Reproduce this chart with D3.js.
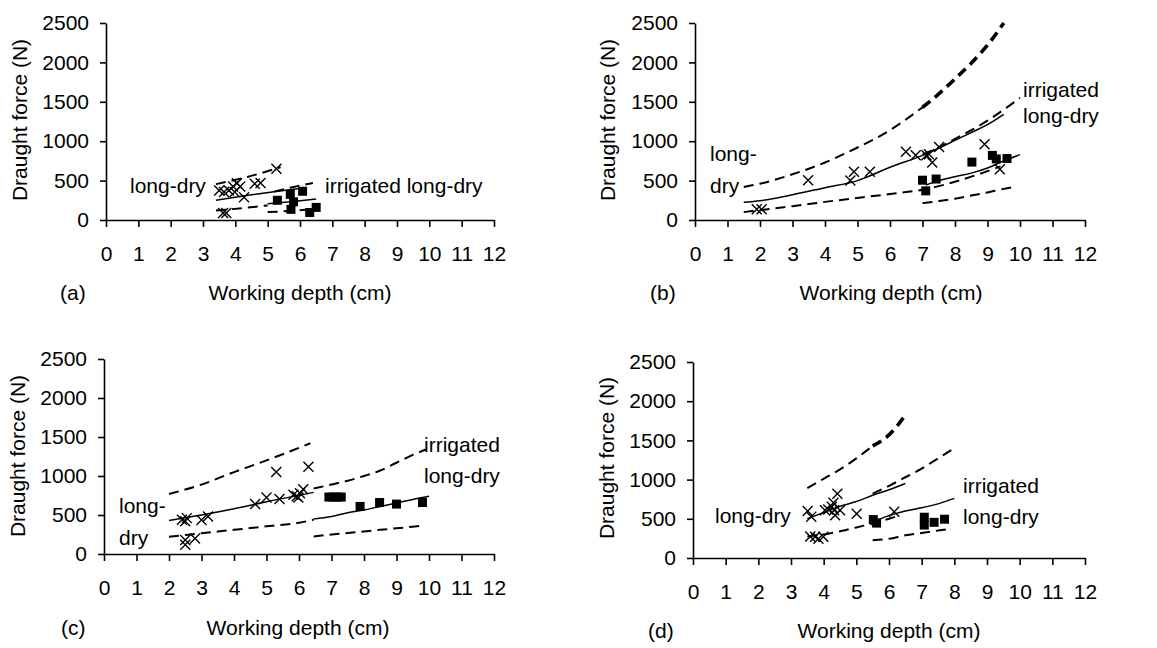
<!DOCTYPE html>
<html>
<head>
<meta charset="utf-8">
<script src="https://cdn.jsdelivr.net/npm/d3@7"></script>
<style>
  body { margin: 0; background: #fff; }
  svg text { font-family: "Liberation Sans", Arial, sans-serif; font-size: 21px; fill: #000; }
</style>
</head>
<body>
<svg id="chart" width="1157" height="648"></svg>
<script>
const depthTicks = [0, 1, 2, 3, 4, 5, 6, 7, 8, 9, 10, 11, 12];
const forceTicks = [0, 500, 1000, 1500, 2000, 2500];

// (a)
const aDryCross = [[3.5,375],[3.65,355],[3.8,375],[3.93,425],[4.05,465],[4.15,425],[3.98,355],[4.27,290],[4.6,460],[4.78,470],[5.27,650],[3.62,88],[3.72,90]];
const aIrrSquare = [[5.3,250],[5.7,325],[5.8,230],[5.72,135],[6.08,365],[6.3,95],[6.5,160]];
const aDryUpper = [[3.4,455],[4.4,550],[5.4,670]];
const aDryMean = [[3.4,250],[4.5,320],[5.5,375],[6.0,400]];
const aDryLower = [[3.4,120],[4.2,150],[5.0,185]];
const aIrrUpper = [[5.2,360],[5.8,420],[6.4,470]];
const aIrrMean = [[5.0,205],[5.8,235],[6.5,265]];
const aIrrLower = [[5.0,100],[5.7,115],[6.4,135]];

// (b)
const bDryCross = [[1.9,135],[2.05,135],[3.48,505],[4.78,500],[4.89,612],[5.38,612],[6.49,865],[6.79,822],[7.12,822],[7.2,835],[7.3,730],[7.51,925],[8.91,960],[9.38,645]];
const bIrrSquare = [[7.0,505],[7.1,370],[7.42,520],[8.52,735],[9.15,820],[9.27,775],[9.6,780]];
const bDryUpper = [[1.5,420],[2,460],[3,580],[4,730],[5,920],[6,1140],[7,1430]];
const bDryUpperTail = [[7,1430],[7.5,1600],[8,1790],[8.5,1990],[9,2220],[9.5,2500]];
const bDryMean = [[1.5,225],[2,245],[3,320],[4,410],[5,500],[6,670],[7,820],[8,1010],[8.5,1110],[9,1210],[9.5,1340]];
const bDryLower = [[1.5,100],[2,125],[3,175],[4,230],[5,280],[6,330],[7,385],[7.5,430],[8,485],[8.5,550],[9,620],[9.4,680]];
const bIrrUpper = [[7,830],[7.5,920],[8,1030],[8.5,1140],[9,1260],[9.5,1400],[10,1550]];
const bIrrMean = [[7.1,445],[7.5,500],[8,550],[8.5,595],[9,660],[9.5,750],[10,830]];
const bIrrLower = [[7,215],[7.5,240],[8,270],[8.5,310],[9,350],[9.5,395],[9.85,420]];

// (c)
const cDryCross = [[2.4,440],[2.55,460],[2.5,420],[3.0,435],[3.2,480],[4.65,640],[5.0,725],[5.3,1050],[5.4,705],[5.83,760],[5.93,740],[6.03,780],[6.13,830],[5.98,725],[6.29,1120],[2.5,180],[2.5,120],[2.8,200]];
const cIrrSquare = [[6.92,730],[7.05,730],[7.18,730],[7.3,730],[7.88,610],[8.48,660],[9.0,640],[9.8,660]];
const cDryUpper = [[2,770],[3,890],[4,1050],[5,1200],[6.35,1420]];
const cDryMean = [[2,430],[3,500],[4,580],[5,670],[6.45,790]];
const cDryLower = [[2,220],[3,265],[4,310],[5,355],[6,400],[6.45,440]];
const cIrrUpper = [[6.45,840],[7,890],[7.5,940],[8,1000],[8.5,1070],[9,1170],[9.5,1270],[9.9,1340]];
const cIrrMean = [[6.45,450],[7,480],[7.5,530],[8,565],[8.5,610],[9,655],[9.5,700],[10,740]];
const cIrrLower = [[6.45,225],[7,250],[7.5,270],[8,290],[8.5,310],[9,330],[9.5,350],[9.85,365]];

// (d)
const dDryCross = [[3.51,600],[3.62,525],[4.04,610],[4.14,620],[4.25,655],[4.3,705],[4.42,820],[4.35,545],[4.32,610],[4.5,610],[5.01,565],[6.16,590],[3.59,275],[3.74,270],[3.84,245],[3.99,270]];
const dIrrSquare = [[5.52,490],[5.62,445],[7.08,520],[7.08,420],[7.38,455],[7.7,495]];
const dDryUpper = [[3.5,890],[4,1010],[4.5,1130],[5,1270],[5.5,1430]];
const dDryUpperTail = [[5.5,1430],[6,1570],[6.5,1820]];
const dDryMean = [[3.5,500],[4,580],[4.5,660],[5,720],[5.5,800],[6,870],[6.5,950]];
const dDryLower = [[3.5,275],[4,300],[4.5,340],[5,390],[5.5,440],[6,500],[6.3,540]];
const dIrrUpper = [[5.5,820],[6,920],[6.5,1030],[7,1140],[7.5,1270],[8,1400]];
const dIrrMean = [[5.5,460],[6,540],[6.5,600],[7,640],[7.5,690],[8,760]];
const dIrrLower = [[5.5,225],[6,245],[6.5,290],[7,320],[7.5,350],[7.9,375]];

const svg = d3.select('#chart');

const panels = [
  { id: 'a', left: 106, right: 494, top: 23, bottom: 220,
    crosses: aDryCross, squares: aIrrSquare,
    solid: [aDryMean, aIrrMean], dashed: [aDryUpper, aDryLower, aIrrUpper, aIrrLower], thick: [],
    yTitle: { x: 20, y: 120 }, xTitle: { x: 300, y: 300 }, tag: { x: 60, y: 300 },
    notes: [{ t: 'long-dry', x: 130, y: 193 }, { t: 'irrigated long-dry', x: 325, y: 193 }] },
  { id: 'b', left: 695, right: 1085, top: 23, bottom: 220,
    crosses: bDryCross, squares: bIrrSquare,
    solid: [bDryMean, bIrrMean], dashed: [bDryUpper, bDryLower, bIrrUpper, bIrrLower], thick: [bDryUpperTail],
    yTitle: { x: 608, y: 120 }, xTitle: { x: 891, y: 300 }, tag: { x: 650, y: 300 },
    notes: [{ t: 'long-', x: 710, y: 161 }, { t: 'dry', x: 710, y: 193 },
            { t: 'irrigated', x: 1023, y: 97 }, { t: 'long-dry', x: 1023, y: 123 }] },
  { id: 'c', left: 104, right: 494, top: 359, bottom: 554,
    crosses: cDryCross, squares: cIrrSquare,
    solid: [cDryMean, cIrrMean], dashed: [cDryUpper, cDryLower, cIrrUpper, cIrrLower], thick: [],
    yTitle: { x: 18, y: 456 }, xTitle: { x: 298, y: 635 }, tag: { x: 61, y: 635 },
    notes: [{ t: 'long-', x: 119, y: 513 }, { t: 'dry', x: 119, y: 545 },
            { t: 'irrigated', x: 424, y: 452 }, { t: 'long-dry', x: 424, y: 483 }] },
  { id: 'd', left: 693, right: 1085, top: 362, bottom: 558,
    crosses: dDryCross, squares: dIrrSquare,
    solid: [dDryMean, dIrrMean], dashed: [dDryUpper, dDryLower, dIrrUpper, dIrrLower], thick: [dDryUpperTail],
    yTitle: { x: 607, y: 458 }, xTitle: { x: 889, y: 638 }, tag: { x: 648, y: 638 },
    notes: [{ t: 'long-dry', x: 715, y: 523 },
            { t: 'irrigated', x: 963, y: 493 }, { t: 'long-dry', x: 963, y: 524 }] }
];

panels.forEach(p => drawPanel(p));

function drawPanel(p) {
  const x = d3.scaleLinear().domain([0, 12]).range([p.left, p.right]);
  const y = d3.scaleLinear().domain([0, 2500]).range([p.bottom, p.top]);
  const g = svg.append('g').attr('class', 'panel-' + p.id);

  const xAxis = d3.axisBottom(x).tickValues(depthTicks).tickFormat(d3.format('d'))
    .tickSize(7).tickSizeOuter(0).tickPadding(19);
  const yAxis = d3.axisLeft(y).tickValues(forceTicks).tickFormat(d3.format('d'))
    .tickSize(6).tickSizeOuter(0).tickPadding(11);

  g.append('g').attr('transform', `translate(0,${p.bottom})`).call(xAxis);
  g.append('g').attr('transform', `translate(${p.left},0)`).call(yAxis);
  g.selectAll('.domain, .tick line').attr('stroke', '#000').attr('stroke-width', 1.6);

  const line = d3.line().x(d => x(d[0])).y(d => y(d[1])).curve(d3.curveMonotoneX);

  g.selectAll('.dash').data(p.dashed).enter().append('path')
    .attr('d', line).attr('fill', 'none').attr('stroke', '#000')
    .attr('stroke-width', 2).attr('stroke-dasharray', '10,6');
  g.selectAll('.thick').data(p.thick).enter().append('path')
    .attr('d', line).attr('fill', 'none').attr('stroke', '#000')
    .attr('stroke-width', 3.6).attr('stroke-dasharray', '10,6');
  g.selectAll('.solid').data(p.solid).enter().append('path')
    .attr('d', line).attr('fill', 'none').attr('stroke', '#000').attr('stroke-width', 1.5);

  // crosses: long-dry data
  g.selectAll('.cross').data(p.crosses).enter().append('path')
    .attr('transform', d => `translate(${x(d[0])},${y(d[1])})`)
    .attr('d', 'M-5,-5L5,5M-5,5L5,-5')
    .attr('stroke', '#000').attr('stroke-width', 1.4).attr('fill', 'none');

  // squares: irrigated long-dry data
  g.selectAll('.sq').data(p.squares).enter().append('rect')
    .attr('x', d => x(d[0]) - 4.5).attr('y', d => y(d[1]) - 4.5)
    .attr('width', 9).attr('height', 9).attr('fill', '#000');

  g.append('text')
    .attr('transform', `translate(${p.yTitle.x},${p.yTitle.y}) rotate(-90)`)
    .attr('text-anchor', 'middle').attr('dy', '0.35em')
    .text('Draught force (N)');
  g.append('text').attr('x', p.xTitle.x).attr('y', p.xTitle.y)
    .attr('text-anchor', 'middle').text('Working depth (cm)');
  g.append('text').attr('x', p.tag.x).attr('y', p.tag.y).text('(' + p.id + ')');

  g.selectAll('.note').data(p.notes).enter().append('text')
    .attr('x', d => d.x).attr('y', d => d.y).text(d => d.t);
}
</script>
</body>
</html>
